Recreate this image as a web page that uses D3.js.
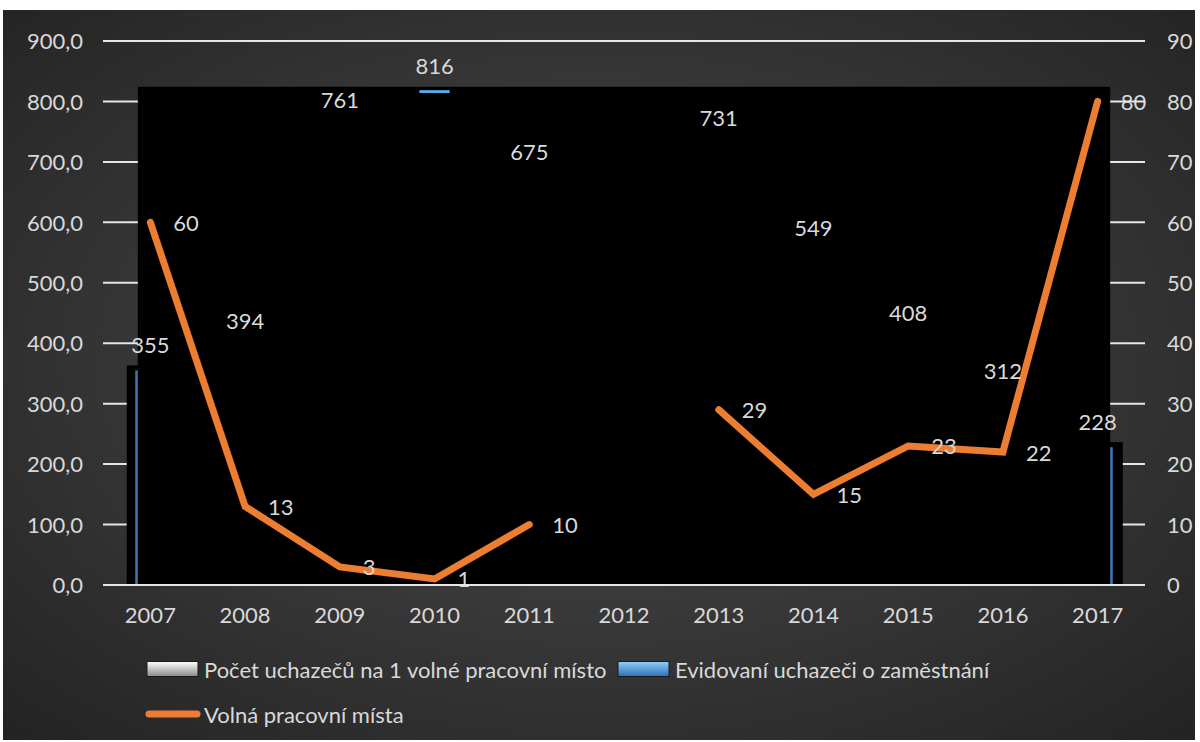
<!DOCTYPE html>
<html><head><meta charset="utf-8">
<script src="https://cdn.jsdelivr.net/npm/d3@7"></script>
<style>
html,body{margin:0;padding:0;background:#ffffff;}
svg{display:block;font-family:Lato,"Open Sans",sans-serif;}
</style></head>
<body>
<svg id="chart" width="1200" height="742"></svg>
<script>
const years = ["2007","2008","2009","2010","2011","2012","2013","2014","2015","2016","2017"];
const evidovani = [355, 394, 761, 816, 675, null, 731, 549, 408, 312, 228];
const volnaMista = [60, 13, 3, 1, 10, null, 29, 15, 23, 22, 80];
const leftTicks = [0,100,200,300,400,500,600,700,800,900];
const rightTicks = [0,10,20,30,40,50,60,70,80,90];
const seriesNames = ["Počet uchazečů na 1 volné pracovní místo","Evidovaní uchazeči o zaměstnání","Volná pracovní místa"];

const W = 1200, H = 742;
const FS = 22;
const svg = d3.select("#chart");
const defs = svg.append("defs");
const textCol = "#d9d9d9";
const locale = d3.formatLocale({decimal:",", thousands:" ", grouping:[3], currency:["","Kč"]});
const fmt1 = locale.format(".1f");

// background
const bg = defs.append("radialGradient").attr("id","bg").attr("cx","50%").attr("cy","48%").attr("r","72%");
bg.append("stop").attr("offset","0%").attr("stop-color","#4c4c4c");
bg.append("stop").attr("offset","100%").attr("stop-color","#232323");
svg.append("rect").attr("x",3).attr("y",10).attr("width",W-8).attr("height",H-12).attr("fill","url(#bg)");

const x = d3.scaleBand().domain(years).range([103,1145]).paddingInner(0).paddingOuter(0);
const yL = d3.scaleLinear().domain([0,900]).range([585,41]);
const yR = d3.scaleLinear().domain([0,90]).range([585,41]);
const bw = x.bandwidth()*0.32;
const bx = (d,i)=> x(years[i]) + x.bandwidth()/2 - bw/2;

const idx = evidovani.map((v,i)=>v==null?null:i).filter(v=>v!=null);
const fi = idx[0], li = idx[idx.length-1];
const maxV = d3.max(evidovani);
const mi = evidovani.indexOf(maxV);
const y0 = yL(0);

// black shadow blocks derived from the bars
const glows = [
  {x0: bx(null,fi)-8.5, x1: bx(null,fi)+3, top: yL(evidovani[fi])-5},
  {x0: bx(null,li)+bw-3, x1: bx(null,li)+bw+10, top: yL(evidovani[li])-5}
];
const cover = {x0: bx(null,fi)+2.6, x1: bx(null,li)+bw-2.6, top: yL(maxV)-5};

// mask for gridlines
const mask = defs.append("mask").attr("id","gm").attr("maskUnits","userSpaceOnUse")
  .attr("x",0).attr("y",0).attr("width",W).attr("height",H);
mask.append("rect").attr("width",W).attr("height",H).attr("fill","white");
mask.selectAll("rect.b").data(glows.concat([cover])).join("rect").attr("class","b")
  .attr("x",d=>d.x0).attr("y",d=>d.top).attr("width",d=>d.x1-d.x0).attr("height",d=>y0-2.2-d.top).attr("fill","black");

// bar gradient
const bgrad = defs.append("linearGradient").attr("id","barg").attr("x1","0").attr("x2","1").attr("y1","0").attr("y2","0");
bgrad.append("stop").attr("offset","0%").attr("stop-color","#3d6fa8");
bgrad.append("stop").attr("offset","50%").attr("stop-color","#5b9bd5");
bgrad.append("stop").attr("offset","100%").attr("stop-color","#3d6fa8");

svg.append("g").selectAll("rect").data(glows).join("rect")
  .attr("x",d=>d.x0).attr("y",d=>d.top).attr("width",d=>d.x1-d.x0).attr("height",d=>y0-d.top).attr("fill","#000");

svg.append("g").selectAll("rect").data(evidovani.map((v,i)=>({v,i})).filter(d=>d.v!=null)).join("rect")
  .attr("x",d=>bx(null,d.i)).attr("y",d=>yL(d.v)).attr("width",bw).attr("height",d=>y0-yL(d.v))
  .attr("fill","url(#barg)");

svg.append("rect").attr("x",cover.x0).attr("y",cover.top).attr("width",cover.x1-cover.x0).attr("height",y0-cover.top).attr("fill","#000");

// top edge highlight of the tallest bar
svg.append("rect").attr("x",bx(null,mi)).attr("y",yL(maxV)-1.6).attr("width",bw).attr("height",2.8).attr("fill","#5aaeea");

// line
const line = d3.line().defined(d=>d!=null).x((d,i)=>x(years[i])+x.bandwidth()/2).y(d=>yR(d));
svg.append("path").datum(volnaMista).attr("d",line).attr("fill","none")
  .attr("stroke","#ed7d31").attr("stroke-width",7).attr("stroke-linecap","round").attr("stroke-linejoin","miter");

// data labels
svg.append("g").selectAll("text").data(evidovani.map((v,i)=>({v,i})).filter(d=>d.v!=null)).join("text")
  .attr("x",d=>x(years[d.i])+x.bandwidth()/2).attr("y",d=>yL(d.v)-26)
  .attr("text-anchor","middle").attr("dominant-baseline","central")
  .attr("fill",textCol).attr("font-size",FS).text(d=>d.v);
svg.append("g").selectAll("text").data(volnaMista.map((v,i)=>({v,i})).filter(d=>d.v!=null)).join("text")
  .attr("x",d=>x(years[d.i])+x.bandwidth()/2+23).attr("y",d=>yR(d.v))
  .attr("text-anchor","start").attr("dominant-baseline","central")
  .attr("fill",textCol).attr("font-size",FS).text(d=>d.v);

// gridlines (masked by shadow)
svg.append("g").attr("mask","url(#gm)").selectAll("line").data(leftTicks).join("line")
  .attr("x1",103).attr("x2",1145).attr("y1",d=>yL(d)).attr("y2",d=>yL(d))
  .attr("stroke","#e6e6e6").attr("stroke-width",2);

// axes
const axL = svg.append("g").attr("transform","translate(83,0)")
  .call(d3.axisLeft(yL).tickValues(leftTicks).tickFormat(fmt1).tickSize(0).tickPadding(0));
const axR = svg.append("g").attr("transform","translate(1167,0)")
  .call(d3.axisRight(yR).tickValues(rightTicks).tickSize(0).tickPadding(0));
const axB = svg.append("g").attr("transform","translate(0,615)")
  .call(d3.axisBottom(x).tickSize(0).tickPadding(0));
[axL,axR,axB].forEach(a=>{
  a.select(".domain").remove();
  a.selectAll("text").attr("fill",textCol).attr("font-size",FS).attr("font-family","Lato, 'Open Sans', sans-serif");
});
axL.selectAll("text").attr("dy","0.35em");
axR.selectAll("text").attr("dy","0.35em");
axB.selectAll("text").attr("dy","0.35em");

// legend
const g1 = defs.append("linearGradient").attr("id","lg1").attr("x1","0").attr("x2","0").attr("y1","0").attr("y2","1");
g1.append("stop").attr("offset","0%").attr("stop-color","#ffffff");
g1.append("stop").attr("offset","100%").attr("stop-color","#8a8a8a");
const g2 = defs.append("linearGradient").attr("id","lg2").attr("x1","0").attr("x2","0").attr("y1","0").attr("y2","1");
g2.append("stop").attr("offset","0%").attr("stop-color","#8fd0f8");
g2.append("stop").attr("offset","100%").attr("stop-color","#2f6fb4");

const leg = svg.append("g");
const items = [
  {name:seriesNames[0], type:"box", fill:"url(#lg1)", sx:147, y:669},
  {name:seriesNames[1], type:"box", fill:"url(#lg2)", sx:618, y:669},
  {name:seriesNames[2], type:"line", sx:147, y:714}
];
items.forEach(it=>{
  if(it.type==="box"){
    leg.append("rect").attr("x",it.sx).attr("y",it.y-7.5).attr("width",51).attr("height",15)
      .attr("fill",it.fill).attr("stroke","#1a1a1a").attr("stroke-width",1);
  } else {
    leg.append("line").attr("x1",it.sx+2).attr("x2",it.sx+50).attr("y1",it.y).attr("y2",it.y)
      .attr("stroke","#ed7d31").attr("stroke-width",7).attr("stroke-linecap","round");
  }
  leg.append("text").attr("x",it.sx+57).attr("y",it.y).attr("dominant-baseline","central")
    .attr("fill",textCol).attr("font-size",FS).text(it.name);
});
</script>
</body></html>
